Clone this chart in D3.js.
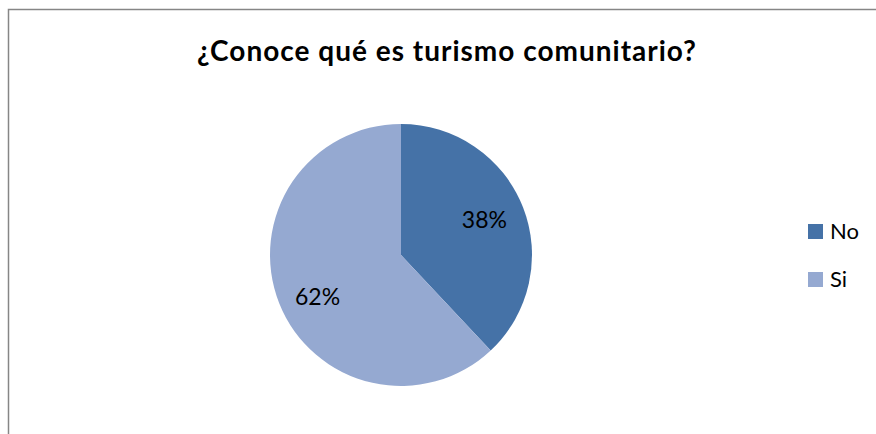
<!DOCTYPE html>
<html><head><meta charset="utf-8">
<script src="https://cdn.jsdelivr.net/npm/d3@7"></script>
<style>body{margin:0;background:#fff}svg{display:block}</style>
</head><body>
<script>
const categories = ["No", "Si"];
const values = [38, 62];
const labels = ["38%", "62%"];
const colors = ["#4572A7", "#95A9D1"];
const title = "¿Conoce qué es turismo comunitario?";

const W = 876, H = 434;
const font = "Lato, 'Open Sans', sans-serif";
const svg = d3.select("body").append("svg").attr("width", W).attr("height", H);
svg.append("rect").attr("x", 8.5).attr("y", 9.5).attr("width", W).attr("height", H)
  .attr("fill", "#fff").attr("stroke", "#868686").attr("stroke-width", 1.5);

svg.append("text").attr("x", 447).attr("y", 61).attr("text-anchor", "middle")
  .attr("font-family", font).attr("font-weight", "bold")
  .attr("font-size", 28).attr("letter-spacing", 1).attr("fill", "#000").text(title);

const cx = 401, cy = 255, r = 131;
const pie = d3.pie().sort(null).value(d => d)(values);
const arc = d3.arc().innerRadius(0).outerRadius(r);
const g = svg.append("g").attr("transform", `translate(${cx},${cy})`);
g.selectAll("path").data(pie).join("path").attr("d", arc).attr("fill", (d, i) => colors[i]);
const lab = d3.arc().innerRadius(r * 0.685).outerRadius(r * 0.685);
const nudgeY = [-2, 9];
g.selectAll("text").data(pie).join("text")
  .attr("transform", (d, i) => { const c = lab.centroid(d); return `translate(${c[0]},${c[1] + nudgeY[i]})`; })
  .attr("text-anchor", "middle").attr("dy", "0.35em")
  .attr("font-family", font).attr("font-size", 23).attr("fill", "#000")
  .text((d, i) => labels[i]);

const leg = svg.append("g");
categories.forEach((c, i) => {
  const y = 224 + i * 48;
  leg.append("rect").attr("x", 808).attr("y", y).attr("width", 15).attr("height", 15).attr("fill", colors[i]);
  leg.append("text").attr("x", 830).attr("y", y + 15)
    .attr("font-family", font).attr("font-size", 22).attr("fill", "#000").text(c);
});
</script>
</body></html>
